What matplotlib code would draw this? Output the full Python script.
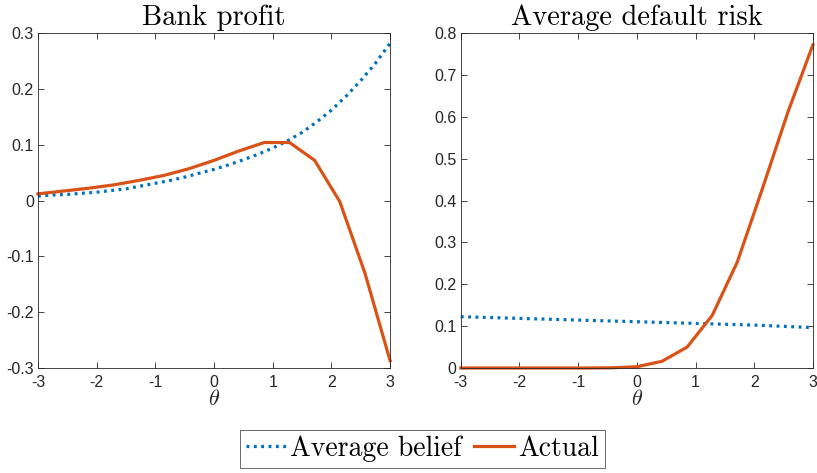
import matplotlib
matplotlib.use("Agg")
import matplotlib.pyplot as plt
from matplotlib.lines import Line2D

plt.rcParams['font.family'] = ['Liberation Sans', 'DejaVu Sans']
plt.rcParams['mathtext.fontset'] = 'cm'

# actual outcome, coarse grid of theta
theta_act = [-3.0, -2.571, -2.143, -1.714, -1.286, -0.857, -0.429, 0.0,
             0.429, 0.857, 1.286, 1.714, 2.143, 2.571, 3.0]
profit_act = [0.012, 0.017, 0.022, 0.028, 0.036, 0.045, 0.057, 0.072,
              0.089, 0.104, 0.104, 0.072, -0.002, -0.130, -0.287]
risk_act = [0.0, 0.0, 0.0, 0.0, 0.0, 0.0, 0.0005, 0.003,
            0.016, 0.050, 0.126, 0.254, 0.430, 0.610, 0.772]

# average belief, finer grid
theta_bel = [-3.0, -2.75, -2.5, -2.25, -2.0, -1.75, -1.5, -1.25, -1.0, -0.75,
             -0.5, -0.25, 0.0, 0.25, 0.5, 0.75, 1.0, 1.25, 1.5, 1.75,
             2.0, 2.25, 2.5, 2.75, 3.0]
profit_bel = [0.008, 0.010, 0.011, 0.013, 0.015, 0.018, 0.021, 0.026, 0.031, 0.036,
              0.042, 0.049, 0.056, 0.064, 0.073, 0.083, 0.094, 0.107, 0.122, 0.141,
              0.162, 0.187, 0.215, 0.246, 0.282]
risk_bel = [0.1225, 0.1215, 0.1205, 0.1195, 0.1185, 0.1175, 0.1165, 0.1155, 0.1145, 0.1135,
            0.1125, 0.1115, 0.1105, 0.1095, 0.1085, 0.1075, 0.1065, 0.1055, 0.1045, 0.1035,
            0.1025, 0.1010, 0.0995, 0.0980, 0.0965]

BLUE = '#0072BD'
ORANGE = '#D95319'
AXC = '#262626'
DOT = (0, (0.9, 1.4))

fig = plt.figure(figsize=(8.17, 4.73), dpi=100)
ax1 = fig.add_axes([0.0465, 0.222, 0.431, 0.708])
ax2 = fig.add_axes([0.564, 0.222, 0.431, 0.708])


def style(ax, yticks, ylim, ylabels):
    ax.set_xlim(-3, 3)
    ax.set_ylim(*ylim)
    ax.set_xticks([-3, -2, -1, 0, 1, 2, 3])
    ax.set_xticklabels(['-3', '-2', '-1', '0', '1', '2', '3'])
    ax.set_yticks(yticks)
    ax.set_yticklabels(ylabels)
    ax.tick_params(direction='in', length=4.5, width=0.6, colors=AXC,
                   labelsize=11.5, top=True, right=True, pad=3)
    ax.tick_params(axis='x', pad=5)
    for s in ax.spines.values():
        s.set_color(AXC)
        s.set_linewidth(0.6)
    ax.set_xlabel(r'$\theta$', fontsize=16, color=AXC, labelpad=-1)


l1, = ax1.plot(theta_bel, profit_bel, color=BLUE, lw=2.3, linestyle=DOT,
               dash_capstyle='butt', clip_on=False)
l2, = ax1.plot(theta_act, profit_act, color=ORANGE, lw=2.3, clip_on=False)
style(ax1, [-0.3, -0.2, -0.1, 0, 0.1, 0.2, 0.3], (-0.3, 0.3),
      ['-0.3', '-0.2', '-0.1', '0', '0.1', '0.2', '0.3'])
ax1.set_title('Bank profit', fontfamily='cmr10', fontsize=20.5, pad=6)

ax2.plot(theta_bel, risk_bel, color=BLUE, lw=2.3, linestyle=DOT,
         dash_capstyle='butt', clip_on=False)
ax2.plot(theta_act, risk_act, color=ORANGE, lw=2.3, clip_on=False)
style(ax2, [0, 0.1, 0.2, 0.3, 0.4, 0.5, 0.6, 0.7, 0.8], (0, 0.8),
      ['0', '0.1', '0.2', '0.3', '0.4', '0.5', '0.6', '0.7', '0.8'])
ax2.set_title('Average default risk', fontfamily='cmr10', fontsize=20.5, pad=6)

leg = fig.legend([l1, l2], ['Average belief', 'Actual'], loc='center',
                 bbox_to_anchor=(0.517, 0.051), ncol=2, frameon=True,
                 fancybox=False, edgecolor=AXC, handlelength=1.45,
                 handletextpad=0.15, columnspacing=0.45, borderpad=0.2,
                 borderaxespad=0, prop={'family': 'cmr10', 'size': 20})
leg.get_frame().set_linewidth(0.6)

fig.savefig('out.png', dpi=100)
